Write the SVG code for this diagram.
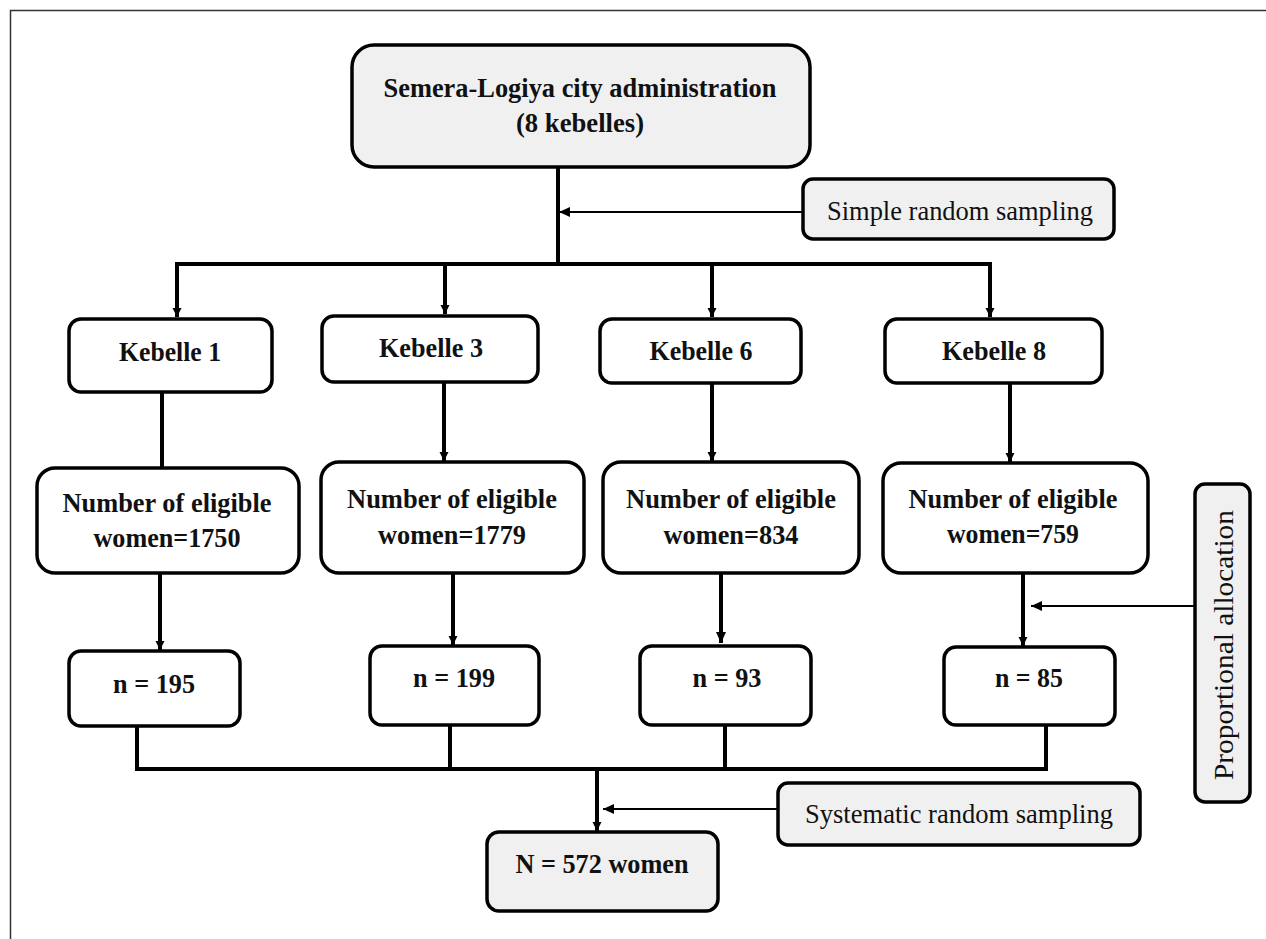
<svg xmlns="http://www.w3.org/2000/svg" width="1266" height="939" viewBox="0 0 1266 939">
<defs>
<style>
.box{fill:#ffffff;stroke:#000;stroke-width:3.5}
.gbox{fill:#f0f0f0;stroke:#000;stroke-width:3.5}
.b{font-family:"Liberation Serif","Times New Roman",serif;font-weight:bold;font-size:28px;fill:#111;text-anchor:middle}
.r{font-family:"Liberation Serif","Times New Roman",serif;font-size:28px;fill:#111;text-anchor:middle}
.thick{stroke:#000;stroke-width:4;fill:none}
.thin{stroke:#000;stroke-width:2;fill:none}
</style>
<marker id="ah" markerUnits="userSpaceOnUse" markerWidth="12" markerHeight="12" viewBox="0 0 12 12" refX="11" refY="6" orient="auto">
<path d="M0,1 L11,6 L0,11 Z" fill="#000"/>
</marker>
<marker id="ahs" markerUnits="userSpaceOnUse" markerWidth="10" markerHeight="10" viewBox="0 0 10 10" refX="9" refY="5" orient="auto">
<path d="M0,0.5 L9,5 L0,9.5 Z" fill="#000"/>
</marker>
</defs>
<rect x="10.5" y="10.5" width="1300" height="1000" fill="#ffffff" stroke="#333" stroke-width="1.5"/>

<g id="connectors">
<path class="thick" d="M558,167 L558,264"/>
<path class="thick" d="M175,264 L992,264"/>
<path class="thick" d="M177,264 L177,317" marker-end="url(#ahs)"/>
<path class="thick" d="M445,264 L445,314" marker-end="url(#ahs)"/>
<path class="thick" d="M712,264 L712,317" marker-end="url(#ahs)"/>
<path class="thick" d="M990,264 L990,317" marker-end="url(#ahs)"/>
<path class="thin" d="M803,212 L559,212" marker-end="url(#ah)"/>
<path class="thick" d="M162,392 L162,468"/>
<path class="thick" d="M444,382 L444,461" marker-end="url(#ahs)"/>
<path class="thick" d="M712,383 L712,461" marker-end="url(#ahs)"/>
<path class="thick" d="M1010,383 L1010,462" marker-end="url(#ahs)"/>
<path class="thick" d="M160,573 L160,650" marker-end="url(#ahs)"/>
<path class="thick" d="M453,573 L453,645" marker-end="url(#ahs)"/>
<path class="thick" d="M721,573 L721,643" marker-end="url(#ah)"/>
<path class="thick" d="M1023,573 L1023,646" marker-end="url(#ahs)"/>
<path class="thin" d="M1195,606 L1031,606" marker-end="url(#ah)"/>
<path class="thick" d="M137,726 L137,769 L1046,769 L1046,725"/>
<path class="thick" d="M450,725 L450,769"/>
<path class="thick" d="M725,725 L725,769"/>
<path class="thick" d="M597,769 L597,831" marker-end="url(#ahs)"/>
<path class="thin" d="M778,809 L603,809" marker-end="url(#ah)"/>
</g>

<g id="admin">
<rect class="gbox" x="352" y="45" width="458" height="122" rx="22"/>
<text class="b" x="580" y="97" textLength="393" lengthAdjust="spacingAndGlyphs">Semera-Logiya city administration</text>
<text class="b" x="580" y="132" textLength="128" lengthAdjust="spacingAndGlyphs">(8 kebelles)</text>
</g>
<g id="simple-random">
<rect class="gbox" x="803" y="179" width="311" height="60" rx="10"/>
<text class="r" x="960" y="220" textLength="266" lengthAdjust="spacingAndGlyphs">Simple random sampling</text>
</g>

<g id="kebelle1">
<rect class="box" x="69" y="319" width="203" height="73" rx="12"/>
<text class="b" x="170" y="361" textLength="102" lengthAdjust="spacingAndGlyphs">Kebelle 1</text>
</g>
<g id="kebelle3">
<rect class="box" x="322" y="316" width="216" height="66" rx="12"/>
<text class="b" x="431" y="357" textLength="104" lengthAdjust="spacingAndGlyphs">Kebelle 3</text>
</g>
<g id="kebelle6">
<rect class="box" x="600" y="319" width="201" height="64" rx="12"/>
<text class="b" x="701" y="360" textLength="103" lengthAdjust="spacingAndGlyphs">Kebelle 6</text>
</g>
<g id="kebelle8">
<rect class="box" x="885" y="319" width="217" height="64" rx="12"/>
<text class="b" x="994" y="360" textLength="104" lengthAdjust="spacingAndGlyphs">Kebelle 8</text>
</g>

<g id="eligible1">
<rect class="box" x="37" y="468" width="262" height="105" rx="18"/>
<text class="b" x="167" y="512" textLength="209" lengthAdjust="spacingAndGlyphs">Number of eligible</text>
<text class="b" x="167" y="547" textLength="147" lengthAdjust="spacingAndGlyphs">women=1750</text>
</g>
<g id="eligible3">
<rect class="box" x="321" y="462" width="263" height="111" rx="18"/>
<text class="b" x="452" y="508" textLength="210" lengthAdjust="spacingAndGlyphs">Number of eligible</text>
<text class="b" x="452" y="544" textLength="148" lengthAdjust="spacingAndGlyphs">women=1779</text>
</g>
<g id="eligible6">
<rect class="box" x="603" y="462" width="256" height="111" rx="18"/>
<text class="b" x="731" y="508" textLength="210" lengthAdjust="spacingAndGlyphs">Number of eligible</text>
<text class="b" x="731" y="544" textLength="135" lengthAdjust="spacingAndGlyphs">women=834</text>
</g>
<g id="eligible8">
<rect class="box" x="883" y="463" width="265" height="110" rx="18"/>
<text class="b" x="1013" y="508" textLength="209" lengthAdjust="spacingAndGlyphs">Number of eligible</text>
<text class="b" x="1013" y="543" textLength="132" lengthAdjust="spacingAndGlyphs">women=759</text>
</g>

<g id="n195">
<rect class="box" x="69" y="651" width="171" height="75" rx="12"/>
<text class="b" x="154" y="693" textLength="82" lengthAdjust="spacingAndGlyphs">n = 195</text>
</g>
<g id="n199">
<rect class="box" x="370" y="646" width="169" height="79" rx="12"/>
<text class="b" x="454" y="687" textLength="82" lengthAdjust="spacingAndGlyphs">n = 199</text>
</g>
<g id="n93">
<rect class="box" x="640" y="646" width="171" height="79" rx="12"/>
<text class="b" x="727" y="687" textLength="69" lengthAdjust="spacingAndGlyphs">n = 93</text>
</g>
<g id="n85">
<rect class="box" x="944" y="647" width="171" height="78" rx="12"/>
<text class="b" x="1029" y="687" textLength="68" lengthAdjust="spacingAndGlyphs">n = 85</text>
</g>

<g id="proportional">
<rect class="gbox" x="1195" y="484" width="55" height="318" rx="10"/>
<text class="r" x="0" y="0" transform="translate(1233,645) rotate(-90)" textLength="270" lengthAdjust="spacingAndGlyphs">Proportional allocation</text>
</g>
<g id="systematic">
<rect class="gbox" x="778" y="783" width="362" height="62" rx="10"/>
<text class="r" x="959" y="823" textLength="308" lengthAdjust="spacingAndGlyphs">Systematic random sampling</text>
</g>
<g id="total">
<rect class="gbox" x="487" y="832" width="231" height="79" rx="12"/>
<text class="b" x="602" y="873" textLength="173" lengthAdjust="spacingAndGlyphs">N = 572 women</text>
</g>
</svg>
